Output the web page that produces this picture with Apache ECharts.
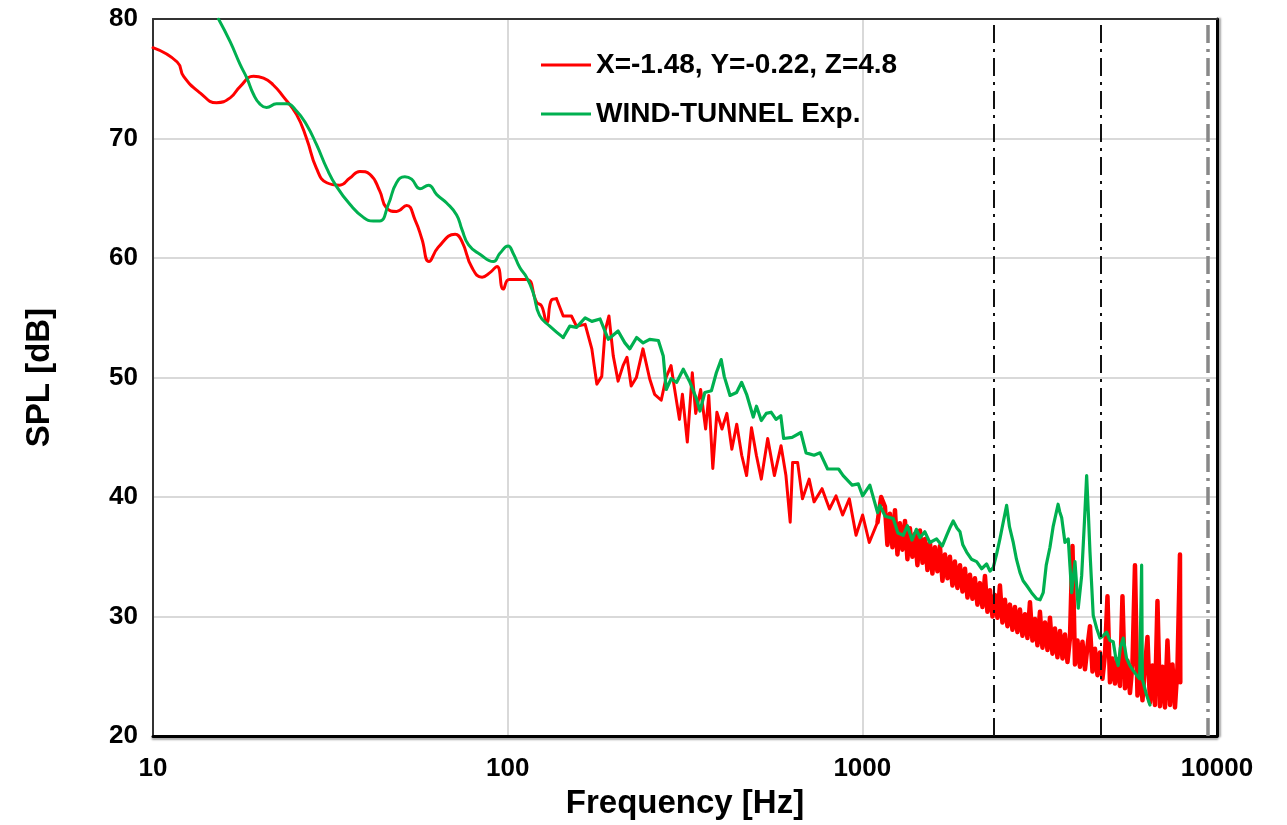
<!DOCTYPE html>
<html>
<head>
<meta charset="utf-8">
<script src="https://cdn.jsdelivr.net/npm/echarts@6/dist/echarts.min.js"></script>
<style>
html,body{margin:0;padding:0;background:#fff;}
#c{width:1287px;height:825px;}
</style>
</head>
<body>
<div id="c"></div>
<script>
const seriesNames = ['X=-1.48, Y=-0.22, Z=4.8', 'WIND-TUNNEL Exp.'];
const xTickLabels = ['10', '100', '1000', '10000'];
const yTickLabels = ['20', '30', '40', '50', '60', '70', '80'];
const guideFreqs = [2350, 4700, 9400];

// [frequency Hz, SPL dB] — red (X=-1.48, Y=-0.22, Z=4.8)
const redLow = [
[10,77.6],[11.7,76.4],[12.2,75.2],[13.6,73.8],[15.1,73.0],[16.5,73.4],[17.6,74.35],[19.2,75.2],[20.5,75.05],[21.8,74.5],
[23.3,73.5],[25.4,72.0],[27.1,70.0],[28.9,67.5],[30.9,66.3],[33.6,66.1],[35.9,66.7],[38.3,67.25],[40.9,67.0],[43.6,65.6],
[45.5,64.2],[48.6,63.9],[51.9,64.4],[54.8,63.2],[57.3,61.6],[60.0,59.7],[63.7,60.9],[71.1,62.0],[74.3,61.4],[79.3,59.2],
[84.7,58.4],[89.3,58.8],[93.3,59.3],[97.2,57.4],[101,58.2],[113,58.2],[120.7,56.3],[124.6,56.0],[128.9,54.6],[133,56.5],
[137.3,56.6]
];
const redMid = [
[137.3,56.6],[143.4,55.15],[151.3,55.15],[156.3,54.3],[165.4,54.45],[172.7,52.4],[178.4,49.45],[184.2,50.1],[188.2,53.9],[193,55.15],
[198.5,51.8],[204.8,49.7],[211.5,51.0],[217,51.7],[223,49.3],[230.6,50.0],[240.7,52.4],[251.4,49.9],[259.6,48.6],[271,48.1],
[279.7,50.0],[288.8,51.0],[295,49.2],[305,46.5],[311,48.6],[321,44.6],[331.6,50.4],[339,47.0],[350,49.0],[361.6,45.7],
[369,48.5],[378.8,42.4],[389,47.1],[402,45.7],[415,47.0],[428.6,44.0],[442.5,46.1],[457,43.5],[471.7,41.8],[487,45.8],
[502.6,43.5],[519,41.5],[541,44.9],[565,41.8],[590,44.3],[609,41.8],[626,37.9],[636,42.9],[657,42.9],[678,39.85],
[708,41.5],[731,39.6],[770,40.7],[808,39.0],[843,40.1],[880,38.5],[919,39.85],[960,36.8],[1002,38.5],[1046,36.2],
[1104,37.9]
];
const redHigh = [
[1104,37.9],[1130,40.0],[1158,39.2],[1177,36.0],[1196,38.6],[1216,35.8],[1236,38.9],[1256,35.2],[1276,37.8],[1297,35.6],[1319,38.0],
[1340,34.8],[1362,37.4],[1384,35.0],[1407,36.9],[1430,34.3],[1454,37.2],[1478,34.5],[1502,36.5],[1526,33.9],[1551,36.2],
[1576,33.6],[1602,35.8],[1628,33.8],[1655,35.9],[1682,33.0],[1710,35.2],[1738,33.2],[1766,35.0],[1795,32.6],[1824,34.6],
[1854,32.4],[1885,34.3],[1916,32.1],[1947,34.0],[1979,31.6],[2011,33.5],[2044,31.5],[2077,33.2],[2111,31.0],[2146,32.8],
[2181,30.8],[2217,33.4],[2253,30.4],[2290,32.2],[2328,30.0],[2365,31.8],[2404,29.9],[2443,32.6],[2483,29.5],[2524,31.4],
[2565,29.2],[2607,31.0],[2650,28.9],[2693,30.8],[2737,28.7],[2782,30.6],[2828,28.4],[2874,30.2],[2921,28.2],[2969,31.2],
[3018,28.0],[3067,29.8],[3117,27.6],[3168,30.4],[3220,27.4],[3273,29.5],[3327,27.2],[3381,29.9],[3436,26.9],[3492,29.0],
[3549,26.6],[3608,28.8],[3667,26.5],[3727,28.5],[3788,26.2],[3850,28.2],[3913,35.9],[3977,26.0],[4042,28.0],[4108,25.8],
[4175,27.9],[4244,25.6],[4313,27.5],[4384,29.2],[4456,25.4],[4529,27.3],[4602,25.1],[4677,27.0],[4754,24.8],[4832,26.8],
[4911,31.7],[4991,24.5],[5073,26.5],[5156,24.4],[5240,26.4],[5326,24.2],[5413,31.7],[5502,24.0],[5592,26.3],[5683,23.6],
[5776,26.0],[5871,34.3],[5967,23.4],[6065,26.2],[6164,23.0],[6265,25.8],[6367,28.3],[6471,22.8],[6577,25.9],[6685,22.6],
[6794,31.3],[6905,22.5],[7018,25.8],[7133,22.4],[7250,28.0],[7369,22.6],[7489,26.0],[7612,22.4],[7737,25.8],[7863,35.2],
[7880,24.5]
];

// [frequency Hz, SPL dB] — green (WIND-TUNNEL Exp.)
const greenLow = [
[15.3,80],[16.5,78.1],[17.6,76.2],[18.4,75.05],[19.2,73.7],[20.0,72.9],[20.9,72.6],[22.3,72.9],[23.8,72.9],[25.4,72.3],
[27.1,71.15],[28.9,69.5],[30.9,67.5],[32.9,66.0],[35.9,64.5],[39.2,63.4],[41.8,63.1],[43.6,63.1],[46.1,64.5],[48.6,66.3],
[51.3,66.8],[53.6,66.6],[56.6,65.8],[59.8,66.1],[63.1,65.3],[67.3,64.6],[71.8,63.6],[74.3,62.4],[77.6,61.1],[83.7,60.3],
[91.1,59.7],[95.1,60.4],[100.3,61.0],[103.6,60.4],[108.2,59.2],[113,58.4],[118,57.1],[123,55.2],[131.4,54.3],[143.4,53.35]
];
const greenHigh = [
[143.4,53.35],
[149.7,54.3],[156.3,54.2],[165.4,55.0],[172.7,54.7],[182.2,54.9],[192.2,53.2],[204.8,53.9],[214,52.9],[221,52.4],[231,53.35],
[241,52.9],[251.4,53.2],[266,53.1],[274.6,51.8],[280,49.0],[289,49.9],[299.6,49.6],[312.7,50.7],[326.6,49.6],[341,48.2],
[348.5,47.2],[359.6,48.75],[375.5,48.9],[387.6,50.4],[400,51.5],[408,50.1],[423.6,48.5],[442,48.75],[456.8,49.6],[471.7,48.6],
[492.6,46.7],[503,47.6],[519,46.4],[536,47.0],[553,47.1],[571,46.5],[589,46.8],[600,44.9],[634,45.0],[671,45.4],
[694,43.7],[731,43.5],[760,43.7],[798,42.35],[857,42.35],[883,41.8],[936,41.0],[974,41.1],[1002,40.1],[1050,41.0],
[1104,38.7],[1121,39.3],[1160,38.4],[1222,38.2],[1260,37.0],[1304,36.8],[1340,37.6],[1380,36.4],[1420,37.3],[1454,36.6],
[1500,37.1],[1550,36.2],[1620,36.5],[1680,35.9],[1729,36.8],[1770,37.5],[1804,38.0],[1850,37.4],[1885,37.1],[1920,36.0],
[1968,35.4],[2030,34.8],[2100,34.6],[2170,34.0],[2241,34.4],[2290,33.8],[2339,34.1],[2390,35.2],[2443,36.5],[2500,38.0],
[2552,39.3],[2600,37.5],[2664,36.2],[2720,34.8],[2782,33.7],[2840,33.0],[2906,32.6],[3000,32.0],[3099,31.5],[3170,31.4],
[3236,32.0],[3300,34.3],[3381,35.8],[3450,37.5],[3564,39.4],[3600,38.8],[3647,38.3],[3727,36.2],[3807,36.5],[3892,32.0],
[3977,34.6],[4062,30.7],[4153,33.4],[4230,38.0],[4290,41.8],[4340,38.5],[4384,35.4],[4477,30.1],[4580,29.0],[4677,28.2],
[4780,28.4],[4884,28.7],[4990,28.0],[5098,27.9],[5180,26.6],[5265,25.9],[5340,27.4],[5440,28.2],[5560,26.5],[5683,25.9],
[5800,25.5],[5934,25.1],[6050,24.8],[6131,34.3],[6160,24.7],[6195,24.5],[6320,23.5],[6471,22.6]
];

const FONT = '"Liberation Sans", Arial, sans-serif';
const RED = '#ff0000';
const GREEN = '#00b050';
const chart = echarts.init(document.getElementById('c'), null, {renderer: 'canvas'});

const dashDot = [18, 6, 3, 6];

function lineSeries(name, data, color, width, smooth, z) {
  return {
    name: name, type: 'line', data: data,
    showSymbol: false, symbol: 'none',
    color: color, smooth: smooth,
    lineStyle: {color: color, width: width, join: 'round', cap: 'round'},
    z: z
  };
}

const s0 = lineSeries(seriesNames[0], redLow, RED, 3, 0.5, 2);
s0.markLine = {
  silent: true,
  symbol: ['none', 'none'],
  label: {show: false},
  lineStyle: {color: '#111', width: 2, type: dashDot},
  data: [
    {xAxis: guideFreqs[0]},
    {xAxis: guideFreqs[1]},
    {xAxis: guideFreqs[2], lineStyle: {color: '#888', width: 3.5, type: dashDot}}
  ]
};

chart.setOption({
  animation: false,
  backgroundColor: '#ffffff',
  grid: {left: 153, top: 19, right: 70, bottom: 87, containLabel: false},
  legend: {
    orient: 'vertical',
    left: 541, top: 51, padding: 0,
    itemWidth: 50, itemHeight: 3, itemGap: 21,
    icon: 'rect',
    data: seriesNames,
    textStyle: {fontFamily: FONT, fontSize: 28, fontWeight: 'bold', color: '#000'}
  },
  xAxis: [{
    type: 'log', logBase: 10, min: 10, max: 10000,
    name: 'Frequency [Hz]', nameLocation: 'middle', nameGap: 48,
    nameTextStyle: {fontFamily: FONT, fontSize: 33, fontWeight: 'bold', color: '#000'},
    axisLine: {onZero: false, lineStyle: {color: '#000', width: 3, shadowColor: 'rgba(0,0,0,0.35)', shadowOffsetY: 2, shadowBlur: 2}},
    axisTick: {show: false},
    minorTick: {show: false},
    axisLabel: {
      fontFamily: FONT, fontSize: 26, fontWeight: 'bold', color: '#000', margin: 20,
      formatter: function (v) {
        const s = String(Math.round(v));
        return xTickLabels.indexOf(s) >= 0 ? s : '';
      }
    },
    splitLine: {show: true, lineStyle: {color: '#d9d9d9', width: 2}}
  }, {
    type: 'log', logBase: 10, min: 10, max: 10000, position: 'top',
    axisLine: {onZero: false, lineStyle: {color: '#333', width: 2}},
    axisTick: {show: false}, axisLabel: {show: false}, splitLine: {show: false}
  }],
  yAxis: [{
    type: 'value', min: 20, max: 80, interval: 10,
    name: 'SPL [dB]', nameLocation: 'middle', nameGap: 97, nameRotate: 90,
    nameTextStyle: {fontFamily: FONT, fontSize: 33, fontWeight: 'bold', color: '#000'},
    axisLine: {show: true, onZero: false, lineStyle: {color: '#333', width: 2}},
    axisTick: {show: false},
    axisLabel: {
      fontFamily: FONT, fontSize: 26, fontWeight: 'bold', color: '#000', margin: 15,
      formatter: function (v) {
        const s = String(Math.round(v));
        return yTickLabels.indexOf(s) >= 0 ? s : '';
      }
    },
    splitLine: {show: true, lineStyle: {color: '#d9d9d9', width: 2}}
  }, {
    type: 'value', min: 20, max: 80, interval: 10, position: 'right',
    axisLine: {show: true, onZero: false, lineStyle: {color: '#000', width: 3, shadowColor: 'rgba(0,0,0,0.35)', shadowOffsetX: 2, shadowBlur: 2}},
    axisTick: {show: false}, axisLabel: {show: false}, splitLine: {show: false}
  }],
  series: [
    s0,
    lineSeries(seriesNames[0], redMid, RED, 3, false, 2),
    lineSeries(seriesNames[0], redHigh, RED, 4.5, false, 2),
    lineSeries(seriesNames[1], greenLow, GREEN, 3, 0.5, 3),
    lineSeries(seriesNames[1], greenHigh, GREEN, 3.2, false, 3)
  ]
});
</script>
</body>
</html>
